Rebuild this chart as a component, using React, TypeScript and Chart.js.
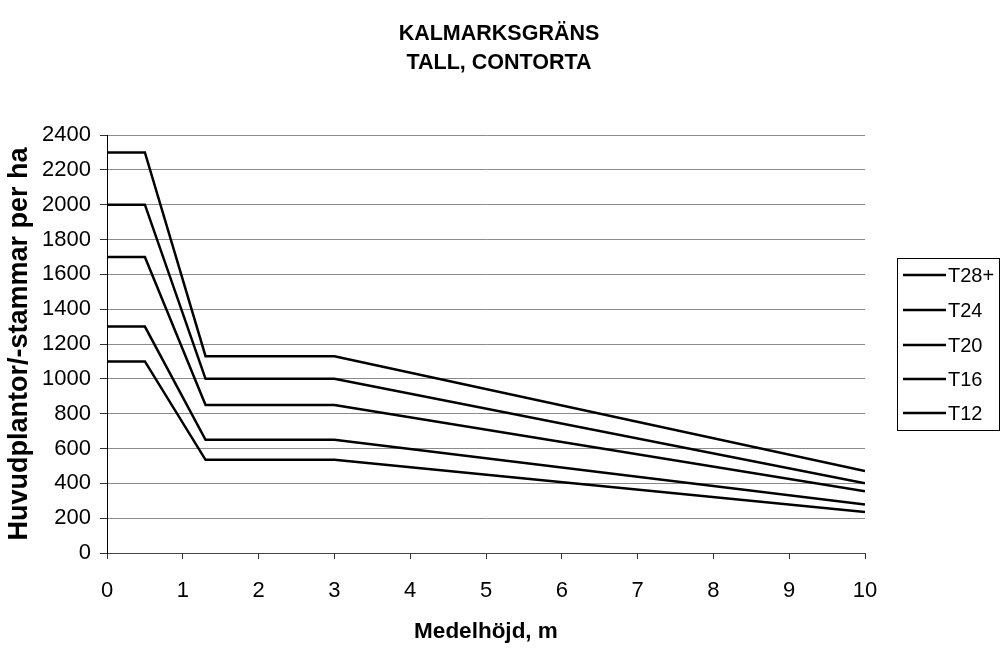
import React, { useEffect, useRef } from "react";
import { Chart, registerables } from "chart.js";

Chart.register(...registerables);

const heights = [0, 0.5, 1.3, 3, 10];
const seriesNames = ["T28+", "T24", "T20", "T16", "T12"];
const t28 = [2300, 2300, 1130, 1130, 470];
const t24 = [2000, 2000, 1000, 1000, 400];
const t20 = [1700, 1700, 850, 850, 355];
const t16 = [1300, 1300, 650, 650, 278];
const t12 = [1100, 1100, 535, 535, 235];
const seriesValues = [t28, t24, t20, t16, t12];
const titleLines = ["KALMARKSGRÄNS", "TALL, CONTORTA"];
const xTitle = "Medelhöjd, m";
const yTitle = "Huvudplantor/-stammar per ha";

const FONT = "'Liberation Sans', Arial, Helvetica, sans-serif";

const customPlugin = {
  id: "customDecor",
  afterDraw(chart: any) {
    const ctx = chart.ctx;
    ctx.save();
    // Title
    ctx.fillStyle = "#000";
    ctx.font = `bold 21.5px ${FONT}`;
    ctx.textAlign = "center";
    ctx.textBaseline = "middle";
    ctx.fillText(titleLines[0], 499, 34);
    ctx.fillText(titleLines[1], 499, 63);
    // Legend box
    ctx.strokeStyle = "#000";
    ctx.lineWidth = 1;
    ctx.strokeRect(897.5, 258.5, 102, 172);
    const ys = [275, 310, 345, 379, 413];
    ctx.font = `20px ${FONT}`;
    ctx.textAlign = "left";
    seriesNames.forEach((name, i) => {
      ctx.beginPath();
      ctx.lineWidth = 2.5;
      ctx.moveTo(903, ys[i]);
      ctx.lineTo(946, ys[i]);
      ctx.stroke();
      ctx.fillText(name, 948, ys[i] + 1);
    });
    ctx.restore();
  },
};

export default function App() {
  const canvasRef = useRef<HTMLCanvasElement | null>(null);

  useEffect(() => {
    const canvas = canvasRef.current;
    if (!canvas) return;
    const chart = new Chart(canvas, {
      type: "line",
      data: {
        datasets: seriesNames.map((name, i) => ({
          label: name,
          data: heights.map((h, j) => ({ x: h, y: seriesValues[i][j] })),
          borderColor: "#000",
          backgroundColor: "#000",
          borderWidth: 2.5,
          pointRadius: 0,
          tension: 0,
          fill: false,
        })),
      },
      options: {
        responsive: false,
        animation: false,
        events: [],
        layout: { padding: { top: 135, right: 136, bottom: 0, left: 0 } },
        plugins: {
          legend: { display: false },
          title: { display: false },
          tooltip: { enabled: false },
        },
        scales: {
          x: {
            type: "linear",
            min: 0,
            max: 10,
            afterFit: (s: any) => {
              s.height = 95;
            },
            ticks: {
              stepSize: 1,
              color: "#000",
              padding: 19,
              font: { family: FONT, size: 22 },
              maxRotation: 0,
              callback: (v: any) => String(v),
            },
            grid: {
              drawOnChartArea: false,
              drawTicks: true,
              tickLength: 6,
              tickColor: "#333",
            },
            border: { display: true, color: "#444", width: 1 },
            title: {
              display: true,
              text: xTitle,
              color: "#000",
              font: { family: FONT, size: 22.5, weight: "bold" },
              padding: { top: 0, bottom: 3 },
            },
          },
          y: {
            type: "linear",
            min: 0,
            max: 2400,
            afterFit: (s: any) => {
              s.width = 107;
            },
            ticks: {
              stepSize: 200,
              color: "#000",
              padding: 9,
              font: { family: FONT, size: 22 },
              callback: (v: any) => String(v),
            },
            grid: {
              drawOnChartArea: true,
              color: "#8c8c8c",
              lineWidth: 1,
              tickLength: 7,
              tickColor: "#333",
            },
            border: { display: true, color: "#000", width: 1 },
            title: {
              display: true,
              text: yTitle,
              color: "#000",
              font: { family: FONT, size: 27, weight: "bold" },
              padding: { top: 3, bottom: 0 },
            },
          },
        },
      },
      plugins: [customPlugin],
    });
    return () => chart.destroy();
  }, []);

  return (
    <div style={{ position: "fixed", left: 0, top: 0, width: 1001, height: 648, background: "#fff" }}>
      <canvas ref={canvasRef} width={1001} height={648} />
    </div>
  );
}
